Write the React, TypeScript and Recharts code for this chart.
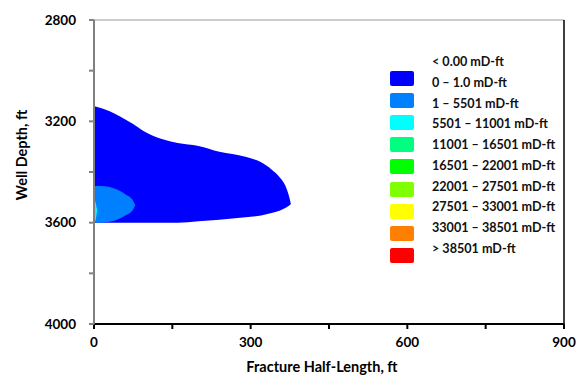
import React from "react";
import {
  ComposedChart,
  Area,
  XAxis,
  YAxis,
  ReferenceLine,
} from "recharts";

// fracture half-length samples (ft)
const halfLength = [0, 3, 6, 20, 40, 60, 75, 79, 100, 130, 160, 200, 240, 290, 320, 340, 355, 368, 374, 377];

// depth ranges [top, bottom] (ft) per conductivity band, null where band absent
const band0Top = [3140, 3141, 3143, 3152, 3170, 3193, 3211, 3216, 3244, 3270, 3286, 3297, 3320, 3340, 3362, 3390, 3420, 3462, 3500, 3526];
const band0Bot = [3600, 3600, 3600, 3600, 3600, 3600, 3600, 3600, 3600, 3600, 3600, 3594, 3588, 3579, 3572, 3562, 3553, 3540, 3532, 3526];
const band1Top = [3455, 3455, 3455, 3456, 3466, 3488, 3514, 3530];
const band1Bot = [3600, 3600, 3600, 3599, 3591, 3572, 3548, 3530];
const band2Top = [3506, 3520, 3550];
const band2Bot = [3597, 3590, 3550];
const band3Top = [3530, 3555];
const band3Bot = [3580, 3555];

const xTicks = [0, 150, 300, 450, 600, 750, 900];
const yTicks = [2800, 3000, 3200, 3400, 3600, 3800, 4000];

const legendLabels = [
  "< 0.00 mD-ft",
  "0 – 1.0 mD-ft",
  "1 – 5501 mD-ft",
  "5501 – 11001 mD-ft",
  "11001 – 16501 mD-ft",
  "16501 – 22001 mD-ft",
  "22001 – 27501 mD-ft",
  "27501 – 33001 mD-ft",
  "33001 – 38501 mD-ft",
  "> 38501 mD-ft",
];
const legendColors = ["#0000FF", "#0080FF", "#00FFFF", "#00FF80", "#00FF00", "#80FF00", "#FFFF00", "#FF8000", "#FF0000"];

const pick = (arrA: number[], arrB: number[], i: number) =>
  i < arrA.length ? [arrA[i], arrB[i]] : null;

const data = halfLength.map((x, i) => ({
  x,
  b0: pick(band0Top, band0Bot, i),
  b1: pick(band1Top, band1Bot, i),
  b2: pick(band2Top, band2Bot, i),
  b3: pick(band3Top, band3Bot, i),
}));

const FONT = "Lato, 'Open Sans', sans-serif";
const tickStyle = { fontSize: 13.5, fontWeight: 700, fill: "#000", fontFamily: FONT };

export default function App() {
  return (
    <div style={{ position: "absolute", left: 0, top: 0, width: 584, height: 385, background: "#fff" }}>
      <ComposedChart
        width={584}
        height={385}
        data={data}
        margin={{ top: 20, right: 10, left: 34, bottom: 31 }}
      >
        <XAxis
          dataKey="x"
          type="number"
          domain={[0, 900]}
          ticks={xTicks}
          tickFormatter={(v: number) => (v % 300 === 0 ? String(v) : "")}
          tick={tickStyle}
          stroke="#000"
          strokeWidth={2}
          tickSize={5}
          tickMargin={8}
          height={30}
          allowDataOverflow
          label={{
            content: () => (
              <text x={322} y={372} textAnchor="middle" style={{ fontSize: 14.5, fontWeight: 700, fontFamily: FONT }} fill="#000">
                Fracture Half-Length, ft
              </text>
            ),
          }}
        />
        <YAxis
          yAxisId="left"
          type="number"
          domain={[2800, 4000]}
          reversed
          ticks={yTicks}
          tickFormatter={(v: number) => (v % 400 === 0 ? String(v) : "")}
          tick={tickStyle}
          stroke="#808080"
          strokeWidth={2}
          tickSize={5}
          tickMargin={13}
          width={60}
          allowDataOverflow
          label={{
            content: () => (
              <text
                x={0}
                y={0}
                transform="translate(27, 155) rotate(-90)"
                textAnchor="middle"
                style={{ fontSize: 14.5, fontWeight: 700, fontFamily: FONT }}
                fill="#000"
              >
                Well Depth, ft
              </text>
            ),
          }}
        />
        <YAxis
          yAxisId="right"
          orientation="right"
          type="number"
          domain={[2800, 4000]}
          reversed
          ticks={yTicks}
          tickFormatter={() => ""}
          stroke="#000"
          strokeWidth={1.5}
          tickSize={4}
          width={10}
        />
        <ReferenceLine yAxisId="left" y={2800} stroke="#999" strokeWidth={1} />

        <Area yAxisId="left" dataKey="b0" type="monotone" stroke="none" fill={legendColors[0]} fillOpacity={1} isAnimationActive={false} dot={false} activeDot={false} />
        <Area yAxisId="left" dataKey="b1" type="monotone" stroke="none" fill={legendColors[1]} fillOpacity={1} isAnimationActive={false} dot={false} activeDot={false} />
        <Area yAxisId="left" dataKey="b2" type="monotone" stroke="none" fill={legendColors[2]} fillOpacity={1} isAnimationActive={false} dot={false} activeDot={false} />
        <Area yAxisId="left" dataKey="b3" type="monotone" stroke="none" fill={legendColors[3]} fillOpacity={1} isAnimationActive={false} dot={false} activeDot={false} />
      </ComposedChart>

      {/* legend */}
      {legendColors.map((c, i) => (
        <div
          key={c}
          style={{ position: "absolute", left: 390, top: 71 + i * 22.1, width: 24, height: 15, background: c, borderRadius: 2 }}
        />
      ))}
      {legendLabels.map((t, i) => (
        <div
          key={t}
          style={{
            position: "absolute",
            left: 432,
            top: 62 + i * 20.75 - 8,
            height: 16,
            lineHeight: "16px",
            fontFamily: FONT,
            fontWeight: 700,
            fontSize: 12.6,
            color: "#111",
            whiteSpace: "nowrap",
          }}
        >
          {t}
        </div>
      ))}
    </div>
  );
}
